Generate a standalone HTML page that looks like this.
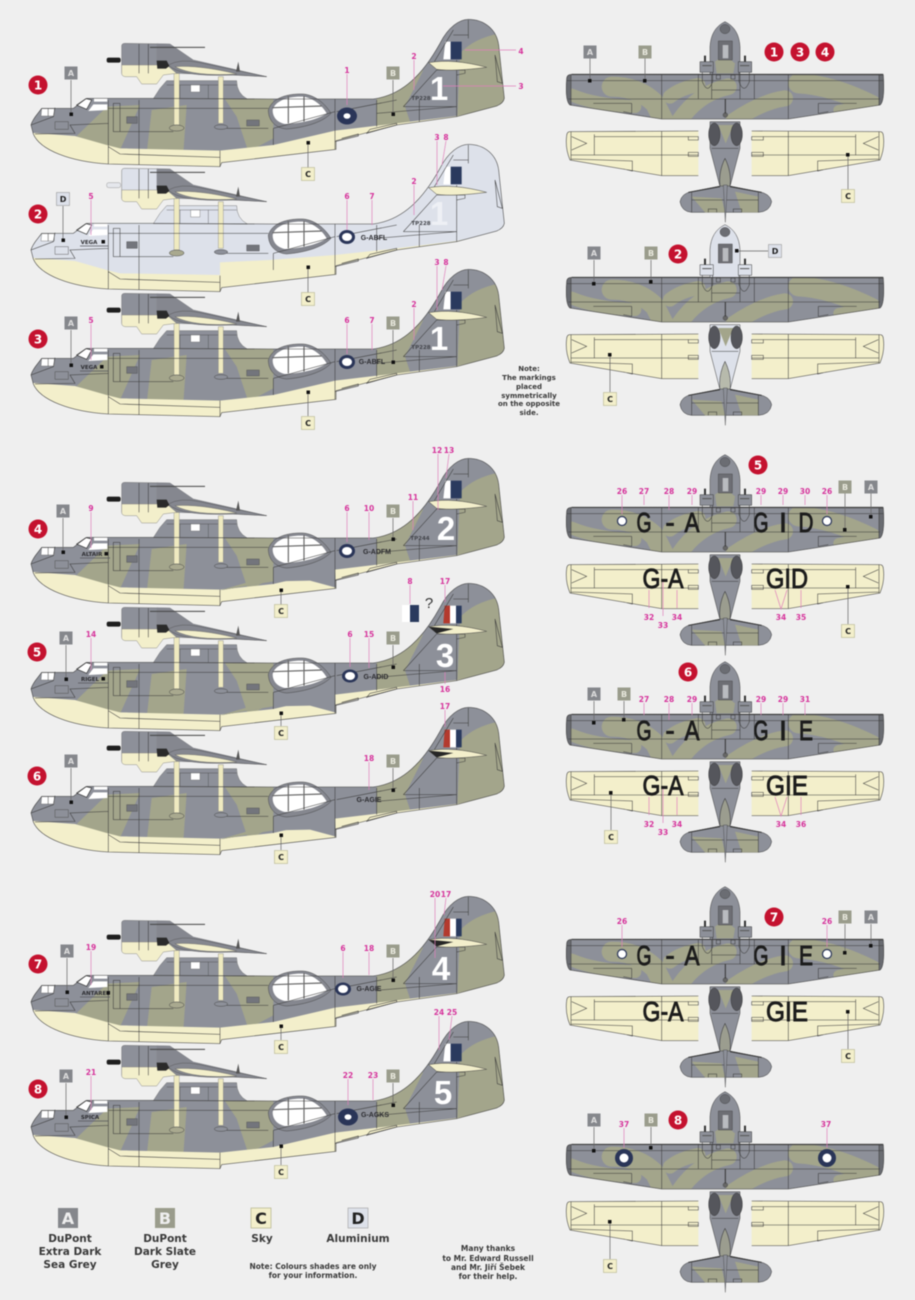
<!DOCTYPE html>
<html><head><meta charset="utf-8"><style>
html,body{margin:0;padding:0;background:#efefef}
svg{display:block;filter:blur(.4px)}
text{font-family:"DejaVu Sans","Liberation Sans",sans-serif;text-anchor:middle}
.p{fill:#d6339b;font-size:7.500px;font-weight:700}
.pl{stroke:#e080bb;stroke-width:.7;fill:none}
.gl{stroke:#666;stroke-width:.7;fill:none}
.bd{fill:#fff;font-size:12px;font-weight:700}
.rg{fill:#2c2c30;font-size:7px;font-weight:700;font-family:"Liberation Sans",sans-serif}
.nm{fill:#2c2c30;font-size:5.500px;font-weight:700}
.tp{fill:#44464c;font-size:5.500px;font-weight:700}
.tn{fill:#fff;font-size:33px;font-weight:700;font-family:"Liberation Sans",sans-serif}
.bl{fill:#1c1c1c;font-size:28px;font-family:"Liberation Sans",sans-serif;stroke:#1c1c1c;stroke-width:.9}
.lg{fill:#3a3a3a;font-size:10.500px;font-weight:700}
.sm{fill:#3a3a3a;font-size:7px;font-weight:700}
.sn{fill:#3a3a3a;font-size:7.500px;font-weight:700}
.ln{stroke:#3a3a3a;stroke-width:1.6;fill:none}
.ol{stroke:#a3a58b;fill:none;stroke-linecap:round;stroke-linejoin:round}
</style></head><body>
<svg xmlns="http://www.w3.org/2000/svg" width="915" height="1300" viewBox="0 0 915 1300">
<defs>
<clipPath id="sc"><path d="M33,345C38,325 55,310 65,295L160,295L200,265L400,265L745,267L1060,267C1150,255 1210,190 1260,100C1285,50 1320,28 1345,28C1395,28 1430,60 1436,105L1453,265Q1450,280 1430,288L1310,320L1130,345L948,392L948,418L605,458L600,470L265,462C150,455 60,420 40,372Z"/></clipPath>

<g id="sideCam">
<g clip-path="url(#sc)">
<rect x="0" y="0" width="1500" height="500" fill="#8d9099"/>
<g fill="#a3a58b">
<path d="M170,378L235,315L262,290L360,285L300,420L255,410Z"/>
<path d="M395,300L500,285L490,430L380,430Z"/>
<path d="M610,260L760,260L760,385L685,425L650,320Z"/>
<path d="M1070,260L1210,180L1155,290L1170,335L1070,360Z"/>
<path d="M1312,320L1320,130Q1360,85 1440,70L1460,290Z"/>
</g>
<path d="M30,368L165,378L260,405L300,415L600,422L760,405L945,362L1130,340L1310,318L1460,285L1460,480L20,480Z" fill="#f3efcb"/>
</g>
</g>
<g id="wedge"><path d="M600,424L760,385L945,360L948,416L870,395L760,397Z" fill="#8d9099"/><path d="M600,424L700,395L760,360L760,397Z" fill="#a3a58b"/></g>

<g id="sideAlu">
<g clip-path="url(#sc)">
<rect x="0" y="0" width="1500" height="500" fill="#dde1ea"/>
<path d="M30,368L165,378L260,405L300,415L600,420L600,382L750,375L945,360L1130,340L1310,318L1460,285L1460,480L20,480Z" fill="#f3efcb"/>
</g>
</g>

<g id="sideDet">
<path d="M400,266L420,235L440,212L650,212Q650,250 682,267Z" fill="currentColor" stroke="#666" stroke-width="1.200"/>
<path d="M440,225H650M565,225V265M480,225V265" class="ln" style="stroke-width:1"/>
<path d="M512,225H540V246H512Z" fill="#fff" stroke="#555"/>
<path d="M462,190H478V345H462ZM595,200H610V340H595Z" fill="#efeac0" stroke="#777" stroke-width="1"/>
<ellipse cx="470" cy="354" rx="22" ry="9" fill="#a9a98f" stroke="#444" stroke-width="1.4"/>
<ellipse cx="603" cy="351" rx="20" ry="7" fill="#8d9099" stroke="#444" stroke-width="1.4"/>
<path d="M305,108Q305,100 315,100L450,102L520,150L740,200L640,195L470,190L305,190Z" fill="currentColor" stroke="#666" stroke-width="1.200"/>
<path d="M410,100L450,102L520,150L740,200L640,195L470,190L410,170Z" fill="#85878f"/>
<path d="M305,165L440,165L470,190L430,195L410,222L365,222L350,200L315,200Q305,198 305,190Z" fill="#f3efcb" stroke="#777" stroke-width="1.2"/>
<path d="M445,165Q480,145 540,158L740,200L640,195Q480,202 445,165Z" fill="#85878f" stroke="#444" stroke-width="1"/>
<path d="M465,170Q540,165 650,192Q520,200 465,170Z" fill="#f3efcb" stroke="#555" stroke-width="1"/>
<path d="M655,155L660,185H648Z" fill="#555"/>
<path d="M390,112H555" stroke="#444" stroke-width="3"/>
<path d="M357,102V190M385,102V190" class="ln"/>
<path d="M745,300C755,265 800,250 850,252C885,255 915,280 933,310C910,335 860,352 800,357C770,355 745,335 745,300Z" fill="#85878f" stroke="#3a3a3a" stroke-width="1.2"/>
<path d="M758,300C765,272 805,258 850,260C880,265 905,285 920,310C900,325 850,340 795,342C775,338 758,325 758,300Z" fill="#fff"/>
<path d="M757,293L905,288M805,258V340M852,258V335" stroke="#666" stroke-width="3.500" fill="none"/>
<path d="M170,285L198,266L215,270L200,298Z" fill="#fff" stroke="#333" stroke-width="2"/>
<path d="M222,265H262V275H222Z" fill="#fff"/>
<path d="M220,283H262V300L205,303Z" fill="#fff"/>
<path d="M65,296H85V318H63ZM84,296H103V318H84Z" fill="#fff" stroke="#555" stroke-width="1"/>
<path d="M105,335H145V358H105Z" fill="none" stroke="#444" stroke-width="1.2"/>
<path class="ln" d="M33,345L100,320L105,293M45,372L165,370L150,345L265,340M265,295H745M265,270V462M357,270V464M760,355V405M945,267V418M1070,270V350M1198,270V335M1310,150V320M265,410L300,432L600,442M600,422V470M760,355L945,305M950,305L1130,270M945,395L1015,378V372L965,385M1040,370L1130,345V340L1050,358ZM1150,290L1250,180L1310,180M1150,290H1310M1070,310L1310,290M280,280V365H300V280ZM300,365H460M620,355H745M1250,180L1335,180V190L1310,195M1300,75H1345M1345,30V85M1240,160L1300,60M1425,135L1447,220L1432,215L1425,135"/>
<path d="M320,320H352V340H320ZM680,330H718V348H680Z" fill="#73757c" stroke="#444" stroke-width="1"/>
<path d="M1226,158Q1300,145 1400,172Q1300,185 1250,178Z" fill="#f3efcb" stroke="#3a3a3a" stroke-width="1.4"/>
<path class="ln" d="M33,345C38,325 55,310 65,295L160,295L200,265L400,265L745,267L1060,267C1150,255 1210,190 1260,100C1285,50 1320,28 1345,28C1395,28 1430,60 1436,105L1453,265Q1450,280 1430,288L1310,320L1130,345L948,392L948,418L605,458L600,470L265,462C150,455 60,420 40,372Z"/>
</g>

<g id="spin"><rect x="260" y="143" width="42" height="15" rx="6" fill="#1e1e1e"/><path d="M410,152H440L448,168L438,176H412Z" fill="#2a2a2a"/></g>
<g id="spinL"><rect x="260" y="143" width="42" height="15" rx="6" fill="#e5e7ec" stroke="#777"/><path d="M410,152H440L448,168L438,176H412Z" fill="#2a2a2a"/></g>
<g id="fBW"><path d="M1276,95H1292V148H1270Z" fill="#fff"/><path d="M1292,95H1325V148H1292Z" fill="#2a3a5e"/></g>
<g id="fRWB"><path d="M1274,95H1290V148H1270Z" fill="#b33a2e"/><path d="M1290,95H1308V148H1290Z" fill="#fff"/><path d="M1308,95H1325V148H1308Z" fill="#2a3a5e"/></g>
<path id="blk" d="M1226,158L1300,165L1250,178Z" fill="#262626"/>

<clipPath id="tw"><path d="M50,178L985,180Q990,260 975,270L700,312H320L45,270Q30,260 35,190Q36,178 50,178Z"/></clipPath>
<g id="topBase">
<path d="M50,178L985,180Q990,260 975,270L700,312H320L45,270Q30,260 35,190Q36,178 50,178Z" fill="#8d9099"/>
<g clip-path="url(#tw)">
<path class="ol" stroke-width="60" d="M170,215Q250,215 300,265L325,315"/>
<path class="ol" stroke-width="38" d="M50,240Q120,270 240,275"/>
<path class="ol" stroke-width="42" d="M430,210Q375,220 345,245"/>
<path class="ol" stroke-width="50" d="M520,215Q430,235 375,315"/>
<path class="ol" stroke-width="60" d="M730,205Q830,210 950,270"/>
<path class="ol" stroke-width="48" d="M690,250Q620,260 535,318"/>
<path class="ol" stroke-width="30" d="M850,285L960,265"/>
<path d="M30,178H48V275H30ZM972,178H990V275H972Z" fill="#6a6c72"/>
</g>
<path d="M45,350L430,348V482H320L45,435Q30,400 35,362Q36,350 45,350ZM975,350L590,348V482H700L975,435Q990,400 985,362Q984,350 975,350Z" fill="#f3efcb"/>
<path class="ln" d="M35,197L985,197M40,252L975,252M320,178V312M700,178V312M48,178V270M972,180V270M470,225H555V252M470,178V252M555,178V252M430,178V252M598,178V252M790,265H905M790,265V295L820,290M230,265V295L205,290M115,265H230"/>
<path d="M50,178H985" stroke="#333" stroke-width="3"/>
<path class="ln" d="M50,178L985,180Q990,260 975,270L700,312H320L45,270Q30,260 35,190Q36,178 50,178Z"/>
<path class="ln" d="M45,350L430,348M430,482H320L45,435Q30,400 35,362Q36,350 45,350M975,350L590,348M590,482H700L975,435Q990,400 985,362Q984,350 975,350M320,348V482M700,348V482M48,350V435M972,350V435M118,358V420M902,358V420M50,365L95,385L50,405M970,365L925,385L970,405M118,365H430M590,365H902M48,420H430M590,420H972M48,432L232,438V468L205,462M972,432L788,438V468L815,462M400,365H430V375H400ZM400,412H430V424H400ZM590,365H625V375H590ZM590,412H625V424H590Z"/>
</g>
<g id="topFus">
<path d="M465,320H555V400L525,515H495L465,400Z" fill="currentColor" stroke="#3a3a3a" stroke-width="1.4"/>
<path d="M490,330H535L512,385Z" fill="#a3a58b"/>
<path d="M510,432Q490,470 497,515H523Q530,470 510,432Z" fill="#a3a58b" opacity=".65"/>
<path d="M470,400H550M510,430Q490,470 495,515M510,430Q530,470 525,515" class="ln"/>
<path d="M375,560Q380,535 410,530L495,513H525L610,530Q645,535 650,560Q645,590 610,592H410Q380,590 375,560Z" fill="#8d9099" stroke="#3a3a3a" stroke-width="1.4"/>
<path d="M410,545L450,592H510L500,550Z" fill="#a3a58b"/>
<path d="M540,530L610,545V592H560Z" fill="#a3a58b"/>
<path d="M400,532L495,515M620,532L525,515" stroke="#333" stroke-width="3"/>
<path d="M410,532V592M610,532V592M410,555H610M460,592V582H485V592M535,592V582H560V592" class="ln"/>
<path d="M505,510H517L511,622Z" fill="#8d9099" stroke="#333"/>
<ellipse cx="478" cy="358" rx="17" ry="34" fill="#55565c" stroke="#333" stroke-width="1.4"/>
<ellipse cx="545" cy="358" rx="17" ry="34" fill="#55565c" stroke="#333" stroke-width="1.4"/>
<path d="M465,178V95Q468,40 510,20Q552,40 555,95V178Z" fill="currentColor" stroke="#3a3a3a" stroke-width="1.4"/>
<path d="M480,140L510,120L540,145L535,175H485Z" fill="#a3a58b" opacity="var(--oc,.9)"/>
<ellipse cx="510" cy="42" rx="15" ry="14" fill="#6b6d73" stroke="#333"/>
<path d="M490,78H532V135H490Z" fill="#6d6e74" stroke="#333"/>
<path d="M503,90H520V130H503Z" fill="#b9bbc0"/>
<path d="M435,140H475V172H435ZM550,140H590V172H550Z" fill="currentColor" stroke="#333" stroke-width="1.4"/>
<path d="M442,172V200Q458,240 473,200V172M552,172V200Q567,240 583,200V172" class="ln"/>
<path d="M450,122V140M570,122V140" stroke="#333" stroke-width="6"/>
<path d="M442,152H470M555,152H583" stroke="#555" stroke-width="3"/>
<path d="M484,180H496V192H484ZM528,180H540V192H528Z" class="ln"/>
<circle cx="511" cy="300" r="7" fill="#666" stroke="#333"/>
<path d="M511,252V295" stroke="#333" stroke-width="3"/>
</g>

<g id="bxA"><rect x="-6.500" y="-6.500" width="13" height="13" fill="#85878c"/><text y="3" font-size="8" font-weight="700" fill="#ddd">A</text></g>
<g id="bxB"><rect x="-6.500" y="-6.500" width="13" height="13" fill="#9a9c8c"/><text y="3" font-size="8" font-weight="700" fill="#e8e8dd">B</text></g>
<g id="bxC"><rect x="-6.500" y="-6.500" width="13" height="13" fill="#f3efcb" stroke="#b5b48e" stroke-width=".6"/><text y="3" font-size="8" font-weight="700" fill="#222">C</text></g>
<g id="bxD"><rect x="-6.500" y="-6.500" width="13" height="13" fill="#dde1ea" stroke="#999" stroke-width=".6"/><text y="3" font-size="8" font-weight="700" fill="#222">D</text></g>
</defs>

<rect width="915" height="1300" fill="#efefef"/>

<!-- SIDE VIEWS -->
<g transform="translate(20,10) scale(.33333)" color="#8d9099"><use href="#sideCam"/><use href="#fBW"/><use href="#sideDet"/><use href="#spin"/></g>
<g transform="translate(20,135) scale(.33333)" color="#dde1ea"><use href="#sideAlu"/><use href="#fBW"/><use href="#sideDet"/><use href="#spinL"/></g>
<g transform="translate(20,260) scale(.33333)" color="#8d9099"><use href="#sideCam"/><use href="#fBW"/><use href="#sideDet"/><use href="#spin"/></g>
<g transform="translate(20,449) scale(.33333)" color="#8d9099"><use href="#sideCam"/><use href="#wedge"/><use href="#fBW"/><use href="#sideDet"/><use href="#spin"/></g>
<g transform="translate(20,574) scale(.33333)" color="#8d9099"><use href="#sideCam"/><use href="#wedge"/><use href="#fRWB"/><use href="#sideDet"/><use href="#spin"/><use href="#blk"/></g>
<g transform="translate(20,698) scale(.33333)" color="#8d9099"><use href="#sideCam"/><use href="#wedge"/><use href="#fRWB"/><use href="#sideDet"/><use href="#spin"/><use href="#blk"/></g>
<g transform="translate(20,887) scale(.33333)" color="#8d9099"><use href="#sideCam"/><use href="#fRWB"/><use href="#sideDet"/><use href="#spin"/><use href="#blk"/></g>
<g transform="translate(20,1012) scale(.33333)" color="#8d9099"><use href="#sideCam"/><use href="#fBW"/><use href="#sideDet"/><use href="#spin"/></g>

<!-- roundels -->
<g fill="#2a3558">
<ellipse cx="347" cy="116" rx="10" ry="8.500"/><ellipse cx="347" cy="237" rx="8" ry="7"/><ellipse cx="347" cy="362" rx="8" ry="7"/><ellipse cx="347" cy="551" rx="8" ry="7"/><ellipse cx="350" cy="676" rx="8" ry="6.500"/><ellipse cx="343" cy="989" rx="8" ry="6.500"/><ellipse cx="348" cy="1117" rx="10" ry="8.500"/>
</g>
<g fill="#fff">
<ellipse cx="347" cy="116" rx="3.500" ry="2.800"/><ellipse cx="347" cy="237" rx="5" ry="4"/><ellipse cx="347" cy="362" rx="5" ry="4"/><ellipse cx="347" cy="551" rx="5" ry="4"/><ellipse cx="350" cy="676" rx="5" ry="4"/><ellipse cx="343" cy="989" rx="5" ry="4"/><ellipse cx="348" cy="1117" rx="3.500" ry="2.800"/>
</g>

<!-- tail numbers -->
<text class="tn" x="439" y="100">1</text>
<text class="tn" x="439" y="225" style="fill:#eef0f5">1</text>
<text class="tn" x="439" y="350">1</text>
<text class="tn" x="446" y="540">2</text>
<text class="tn" x="445" y="667">3</text>
<text class="tn" x="441" y="980">4</text>
<text class="tn" x="443" y="1104">5</text>

<!-- registrations -->
<text class="tp" x="421" y="100">TP228</text>
<text class="tp" x="421" y="225">TP228</text>
<text class="tp" x="421" y="349">TP228</text>
<text class="tp" x="420" y="540">TP244</text>
<text class="rg" x="374" y="240">G-ABFL</text>
<text class="rg" x="372" y="364">G-ABFL</text>
<text class="rg" x="377" y="554">G-ADFM</text>
<text class="rg" x="376" y="679">G-ADID</text>
<text class="rg" x="369" y="802">G-AGIE</text>
<text class="rg" x="369" y="991">G-AGIE</text>
<text class="rg" x="375" y="1117">G-AGKS</text>
<text class="nm" x="89" y="244">VEGA</text>
<text class="nm" x="89" y="369">VEGA</text>
<text class="nm" x="92" y="556">ALTAIR</text>
<text class="nm" x="90" y="681">RIGEL</text>
<text class="nm" x="96" y="995">ANTARES</text>
<text class="nm" x="90" y="1119">SPICA</text>
<path d="M80,246H108M80,371H108M80,558H110M78,683H108M80,997H110M78,1121H108" stroke="#55565c" stroke-width=".7"/>

<!-- leaders side -->
<path class="gl" d="M71,80V114M393,80V114M308,143V168M63,206V240M308,267V293M71,330V365M393,330V362M308,392V416M63,518V552M393,518V539M281,590V605M66,645V679M393,645V667M281,713V726M71,768V802M393,768V790M281,835V850M67,958V992M393,958V980M281,1026V1040M66,1083V1117M393,1083V1105M281,1146V1165"/>
<path class="pl" d="M347,74V105M414,60V90M443,86H516M465,50H516M91,200V235M347,200V230M372,200V225M414,185V215M437,141L437,185M446,141L442,165M91,324V360M347,324V354M372,324V350M414,308V340M437,266V310M446,266L442,290M91,512V548M347,512V542M369,512V540M413,501V530M438,454V510M449,454L446,478M91,638V670M350,638V667M369,638V668M445,585L445,602M445,672V684M410,585V604M445,710V727M369,762V790M91,951V985M343,952V978M369,952V975M435,898V958M446,898L444,915M91,1076V1110M348,1079V1105M373,1079V1100M439,1016V1050M452,1016L449,1040"/>

<!-- pink side labels -->
<text class="p" x="347" y="73">1</text><text class="p" x="414" y="59">2</text><text class="p" x="521" y="89">3</text><text class="p" x="521" y="54">4</text>
<text class="p" x="91" y="199">5</text><text class="p" x="347" y="199">6</text><text class="p" x="372" y="199">7</text><text class="p" x="414" y="184">2</text><text class="p" x="437" y="140">3</text><text class="p" x="446" y="140">8</text>
<text class="p" x="91" y="323">5</text><text class="p" x="347" y="323">6</text><text class="p" x="372" y="323">7</text><text class="p" x="414" y="307">2</text><text class="p" x="437" y="265">3</text><text class="p" x="446" y="265">8</text>
<text class="p" x="91" y="511">9</text><text class="p" x="347" y="511">6</text><text class="p" x="369" y="511">10</text><text class="p" x="413" y="500">11</text><text class="p" x="437" y="453">12</text><text class="p" x="449" y="453">13</text>
<text class="p" x="91" y="637">14</text><text class="p" x="350" y="637">6</text><text class="p" x="369" y="637">15</text><text class="p" x="410" y="584">8</text><text class="p" x="445" y="584">17</text><text class="p" x="445" y="692">16</text>
<text class="p" x="445" y="709">17</text><text class="p" x="369" y="761">18</text>
<text class="p" x="91" y="950">19</text><text class="p" x="343" y="951">6</text><text class="p" x="369" y="951">18</text><text class="p" x="435" y="897">20</text><text class="p" x="446" y="897">17</text>
<text class="p" x="91" y="1075">21</text><text class="p" x="348" y="1078">22</text><text class="p" x="373" y="1078">23</text><text class="p" x="439" y="1015">24</text><text class="p" x="452" y="1015">25</text>

<!-- flag & ? -->
<rect x="402" y="605" width="8" height="17" fill="#fff"/><rect x="410" y="605" width="9" height="17" fill="#2a3a5e"/>
<text x="429" y="608" font-size="15" fill="#333" style="font-family:'Liberation Sans',sans-serif">?</text>

<!-- boxes side -->
<use href="#bxA" x="71" y="73"/><use href="#bxB" x="393" y="73"/><use href="#bxC" x="308" y="174"/>
<use href="#bxD" x="63" y="199"/><use href="#bxC" x="308" y="299"/>
<use href="#bxA" x="71" y="323"/><use href="#bxB" x="393" y="323"/><use href="#bxC" x="308" y="423"/>
<use href="#bxA" x="63" y="511"/><use href="#bxB" x="393" y="511"/><use href="#bxC" x="281" y="611"/>
<use href="#bxA" x="66" y="638"/><use href="#bxB" x="393" y="638"/><use href="#bxC" x="281" y="733"/>
<use href="#bxA" x="71" y="761"/><use href="#bxB" x="393" y="761"/><use href="#bxC" x="281" y="857"/>
<use href="#bxA" x="67" y="951"/><use href="#bxB" x="393" y="951"/><use href="#bxC" x="281" y="1047"/>
<use href="#bxA" x="66" y="1076"/><use href="#bxB" x="393" y="1076"/><use href="#bxC" x="281" y="1172"/>

<!-- dots side -->
<g fill="#111">
<rect x="69.500" y="112.500" width="3.500" height="3.500"/><rect x="391.500" y="112.500" width="3.500" height="3.500"/><rect x="306.500" y="141" width="3.500" height="3.500"/>
<rect x="61.500" y="238.500" width="3.500" height="3.500"/><rect x="101.500" y="240" width="3.500" height="3.500"/><rect x="306.500" y="265.500" width="3.500" height="3.500"/>
<rect x="69.500" y="363.500" width="3.500" height="3.500"/><rect x="100" y="365" width="3.500" height="3.500"/><rect x="391.500" y="360.500" width="3.500" height="3.500"/><rect x="306.500" y="390.500" width="3.500" height="3.500"/>
<rect x="61.500" y="550.500" width="3.500" height="3.500"/><rect x="104.500" y="552" width="3.500" height="3.500"/><rect x="391.500" y="537.500" width="3.500" height="3.500"/><rect x="279.500" y="588.500" width="3.500" height="3.500"/>
<rect x="64.500" y="677.500" width="3.500" height="3.500"/><rect x="101.500" y="677" width="3.500" height="3.500"/><rect x="391.500" y="665.500" width="3.500" height="3.500"/><rect x="279.500" y="711.500" width="3.500" height="3.500"/>
<rect x="69.500" y="800.500" width="3.500" height="3.500"/><rect x="391.500" y="788.500" width="3.500" height="3.500"/><rect x="279.500" y="833.500" width="3.500" height="3.500"/>
<rect x="65.500" y="990.500" width="3.500" height="3.500"/><rect x="106.500" y="991" width="3.500" height="3.500"/><rect x="391.500" y="978.500" width="3.500" height="3.500"/><rect x="279.500" y="1024.500" width="3.500" height="3.500"/>
<rect x="64.500" y="1115.500" width="3.500" height="3.500"/><rect x="391.500" y="1103.500" width="3.500" height="3.500"/><rect x="279.500" y="1144.500" width="3.500" height="3.500"/>
</g>

<!-- badges -->
<g fill="#c4122f">
<circle cx="38" cy="85" r="9.500"/><circle cx="38" cy="214" r="9.500"/><circle cx="38" cy="339" r="9.500"/><circle cx="38" cy="529" r="9.500"/><circle cx="37" cy="652" r="9.500"/><circle cx="37" cy="776" r="9.500"/><circle cx="38" cy="964" r="9.500"/><circle cx="38" cy="1089" r="9.500"/>
<circle cx="774" cy="52" r="9.500"/><circle cx="800" cy="52" r="9.500"/><circle cx="825" cy="52" r="9.500"/><circle cx="678" cy="254" r="9.500"/><circle cx="758" cy="465" r="9.500"/><circle cx="688" cy="672" r="9.500"/><circle cx="774" cy="917" r="9.500"/><circle cx="678" cy="1120" r="9.500"/>
</g>
<text class="bd" x="38" y="89.500">1</text><text class="bd" x="38" y="218.500">2</text><text class="bd" x="38" y="343.500">3</text><text class="bd" x="38" y="533.500">4</text><text class="bd" x="37" y="656.500">5</text><text class="bd" x="37" y="780.500">6</text><text class="bd" x="38" y="968.500">7</text><text class="bd" x="38" y="1093.500">8</text>
<text class="bd" x="774" y="56.500">1</text><text class="bd" x="800" y="56.500">3</text><text class="bd" x="825" y="56.500">4</text><text class="bd" x="678" y="258.500">2</text><text class="bd" x="758" y="469.500">5</text><text class="bd" x="688" y="676.500">6</text><text class="bd" x="774" y="921.500">7</text><text class="bd" x="678" y="1124.500">8</text>

<!-- TOP VIEWS -->
<g transform="translate(555,15) scale(.33333)" color="#8d9099"><use href="#topBase"/><use href="#topFus"/></g>
<g transform="translate(555,218) scale(.33333)" color="#dde1ea" style="--oc:0"><use href="#topBase"/><use href="#topFus"/></g>
<g transform="translate(555,448) scale(.33333)" color="#8d9099"><use href="#topBase"/><use href="#topFus"/></g>
<g transform="translate(555,655) scale(.33333)" color="#8d9099"><use href="#topBase"/><use href="#topFus"/></g>
<g transform="translate(555,880) scale(.33333)" color="#8d9099"><use href="#topBase"/><use href="#topFus"/></g>
<g transform="translate(555,1085) scale(.33333)" color="#8d9099"><use href="#topBase"/><use href="#topFus"/></g>

<!-- letters -->
<circle cx="622" cy="521" r="4.500" fill="#fff" stroke="#2a3558" stroke-width="1.200"/><circle cx="827" cy="521" r="4.500" fill="#fff" stroke="#2a3558" stroke-width="1.200"/>
<text class="bl" x="644" y="532" textLength="15" lengthAdjust="spacingAndGlyphs">G</text><text class="bl" x="670" y="532">-</text><text class="bl" x="692" y="532" textLength="15" lengthAdjust="spacingAndGlyphs">A</text><text class="bl" x="761" y="532" textLength="15" lengthAdjust="spacingAndGlyphs">G</text><text class="bl" x="783" y="532">I</text><text class="bl" x="806" y="532" textLength="15" lengthAdjust="spacingAndGlyphs">D</text>
<text class="bl" x="663" y="588" textLength="41" lengthAdjust="spacingAndGlyphs">G-A</text><text class="bl" x="787" y="588" textLength="42" lengthAdjust="spacingAndGlyphs">GID</text>
<text class="bl" x="644" y="740" textLength="15" lengthAdjust="spacingAndGlyphs">G</text><text class="bl" x="670" y="740">-</text><text class="bl" x="692" y="740" textLength="15" lengthAdjust="spacingAndGlyphs">A</text><text class="bl" x="761" y="740" textLength="15" lengthAdjust="spacingAndGlyphs">G</text><text class="bl" x="783" y="740">I</text><text class="bl" x="806" y="740" textLength="14" lengthAdjust="spacingAndGlyphs">E</text>
<text class="bl" x="663" y="795" textLength="41" lengthAdjust="spacingAndGlyphs">G-A</text><text class="bl" x="787" y="795" textLength="42" lengthAdjust="spacingAndGlyphs">GIE</text>
<circle cx="622" cy="954" r="4.500" fill="#fff" stroke="#2a3558" stroke-width="1.200"/><circle cx="827" cy="954" r="4.500" fill="#fff" stroke="#2a3558" stroke-width="1.200"/>
<text class="bl" x="644" y="965" textLength="15" lengthAdjust="spacingAndGlyphs">G</text><text class="bl" x="670" y="965">-</text><text class="bl" x="692" y="965" textLength="15" lengthAdjust="spacingAndGlyphs">A</text><text class="bl" x="761" y="965" textLength="15" lengthAdjust="spacingAndGlyphs">G</text><text class="bl" x="783" y="965">I</text><text class="bl" x="806" y="965" textLength="14" lengthAdjust="spacingAndGlyphs">E</text>
<text class="bl" x="663" y="1021" textLength="41" lengthAdjust="spacingAndGlyphs">G-A</text><text class="bl" x="787" y="1021" textLength="42" lengthAdjust="spacingAndGlyphs">GIE</text>
<circle cx="624" cy="1158" r="9" fill="#2a3558"/><circle cx="624" cy="1158" r="4.500" fill="#fff"/><circle cx="827" cy="1158" r="9" fill="#2a3558"/><circle cx="827" cy="1158" r="4.500" fill="#fff"/>

<!-- top pink -->
<path class="pl" d="M622,495V514M644,495V505M669,495V510M692,495V505M761,495V505M783,495V505M805,495V505M827,495V514M649,590V608M663,582V616M677,590V608M775,590L781,609L787,590M801,590V608M644,703V715M669,703V720M692,703V715M761,703V715M783,703V715M805,703V715M649,797V815M663,789V823M677,797V815M775,797L781,816L787,797M801,797V815M622,925V947M827,925V947M624,1128V1148M827,1128V1148"/>
<text class="p" x="622" y="494">26</text><text class="p" x="644" y="494">27</text><text class="p" x="669" y="494">28</text><text class="p" x="692" y="494">29</text><text class="p" x="761" y="494">29</text><text class="p" x="783" y="494">29</text><text class="p" x="805" y="494">30</text><text class="p" x="827" y="494">26</text>
<text class="p" x="649" y="620">32</text><text class="p" x="663" y="628">33</text><text class="p" x="677" y="620">34</text><text class="p" x="781" y="620">34</text><text class="p" x="801" y="620">35</text>
<text class="p" x="644" y="702">27</text><text class="p" x="669" y="702">28</text><text class="p" x="692" y="702">29</text><text class="p" x="761" y="702">29</text><text class="p" x="783" y="702">29</text><text class="p" x="805" y="702">31</text>
<text class="p" x="649" y="827">32</text><text class="p" x="663" y="835">33</text><text class="p" x="677" y="827">34</text><text class="p" x="781" y="827">34</text><text class="p" x="801" y="827">36</text>
<text class="p" x="622" y="924">26</text><text class="p" x="827" y="924">26</text>
<text class="p" x="624" y="1127">37</text><text class="p" x="826" y="1127">37</text>

<!-- top leaders -->
<path class="gl" d="M590,58V81M645,58V81M848,155V190M594,260V284M651,260V282M737,251H768M610,355V392M845,493V530M871,493V517M848,587V624M594,701V723M624,701V720M611,793V830M845,924V953M871,924V946M848,1012V1049M594,1127V1151M651,1127V1148M610,1222V1259"/>
<use href="#bxA" x="590" y="52"/><use href="#bxB" x="645" y="52"/><use href="#bxC" x="848" y="196"/>
<use href="#bxA" x="594" y="253"/><use href="#bxB" x="651" y="253"/><use href="#bxD" x="775" y="251"/><use href="#bxC" x="610" y="399"/>
<use href="#bxB" x="845" y="487"/><use href="#bxA" x="871" y="487"/><use href="#bxC" x="848" y="631"/>
<use href="#bxA" x="594" y="694"/><use href="#bxB" x="624" y="694"/><use href="#bxC" x="611" y="837"/>
<use href="#bxB" x="845" y="917"/><use href="#bxA" x="871" y="917"/><use href="#bxC" x="848" y="1056"/>
<use href="#bxA" x="594" y="1120"/><use href="#bxB" x="651" y="1120"/><use href="#bxC" x="610" y="1266"/>
<g fill="#111">
<rect x="588" y="79" width="3.500" height="3.500"/><rect x="643" y="79" width="3.500" height="3.500"/><rect x="846" y="153" width="3.500" height="3.500"/>
<rect x="592" y="282" width="3.500" height="3.500"/><rect x="649" y="280" width="3.500" height="3.500"/><rect x="735" y="249" width="3.500" height="3.500"/><rect x="608" y="353" width="3.500" height="3.500"/>
<rect x="843" y="528" width="3.500" height="3.500"/><rect x="869" y="515" width="3.500" height="3.500"/><rect x="846" y="585" width="3.500" height="3.500"/>
<rect x="592" y="721" width="3.500" height="3.500"/><rect x="622" y="718" width="3.500" height="3.500"/><rect x="609" y="791" width="3.500" height="3.500"/>
<rect x="843" y="951" width="3.500" height="3.500"/><rect x="869" y="944" width="3.500" height="3.500"/><rect x="846" y="1010" width="3.500" height="3.500"/>
<rect x="592" y="1149" width="3.500" height="3.500"/><rect x="649" y="1146" width="3.500" height="3.500"/><rect x="608" y="1220" width="3.500" height="3.500"/>
</g>

<!-- note -->
<text class="sm" x="529" y="371">Note:</text><text class="sm" x="529" y="380">The markings</text><text class="sm" x="529" y="389">placed</text><text class="sm" x="529" y="398">symmetrically</text><text class="sm" x="529" y="406">on the opposite</text><text class="sm" x="529" y="415">side.</text>

<!-- legend -->
<rect x="58" y="1208" width="20" height="20" fill="#85878c"/><text x="68" y="1224" font-size="16" font-weight="700" fill="#eee">A</text>
<rect x="155" y="1208" width="20" height="20" fill="#9a9c8c"/><text x="165" y="1224" font-size="16" font-weight="700" fill="#eee">B</text>
<rect x="251" y="1208" width="20" height="20" fill="#f3efcb" stroke="#b5b48e" stroke-width=".7"/><text x="261" y="1224" font-size="16" font-weight="700" fill="#222">C</text>
<rect x="348" y="1208" width="20" height="20" fill="#dde1ea" stroke="#aaa" stroke-width=".7"/><text x="358" y="1224" font-size="16" font-weight="700" fill="#222">D</text>
<text class="lg" x="70" y="1242">DuPont</text><text class="lg" x="70" y="1255">Extra Dark</text><text class="lg" x="70" y="1268">Sea Grey</text>
<text class="lg" x="165" y="1242">DuPont</text><text class="lg" x="165" y="1255">Dark Slate</text><text class="lg" x="165" y="1268">Grey</text>
<text class="lg" x="262" y="1242">Sky</text><text class="lg" x="358" y="1242">Aluminium</text>
<text class="sn" x="313" y="1269">Note: Colours shades are only</text><text class="sn" x="313" y="1278">for your information.</text>
<text class="sn" x="488" y="1251">Many thanks</text><text class="sn" x="488" y="1261">to Mr. Edward Russell</text><text class="sn" x="488" y="1270">and Mr. Jiří Šebek</text><text class="sn" x="488" y="1279">for their help.</text>
</svg>
</body></html>
